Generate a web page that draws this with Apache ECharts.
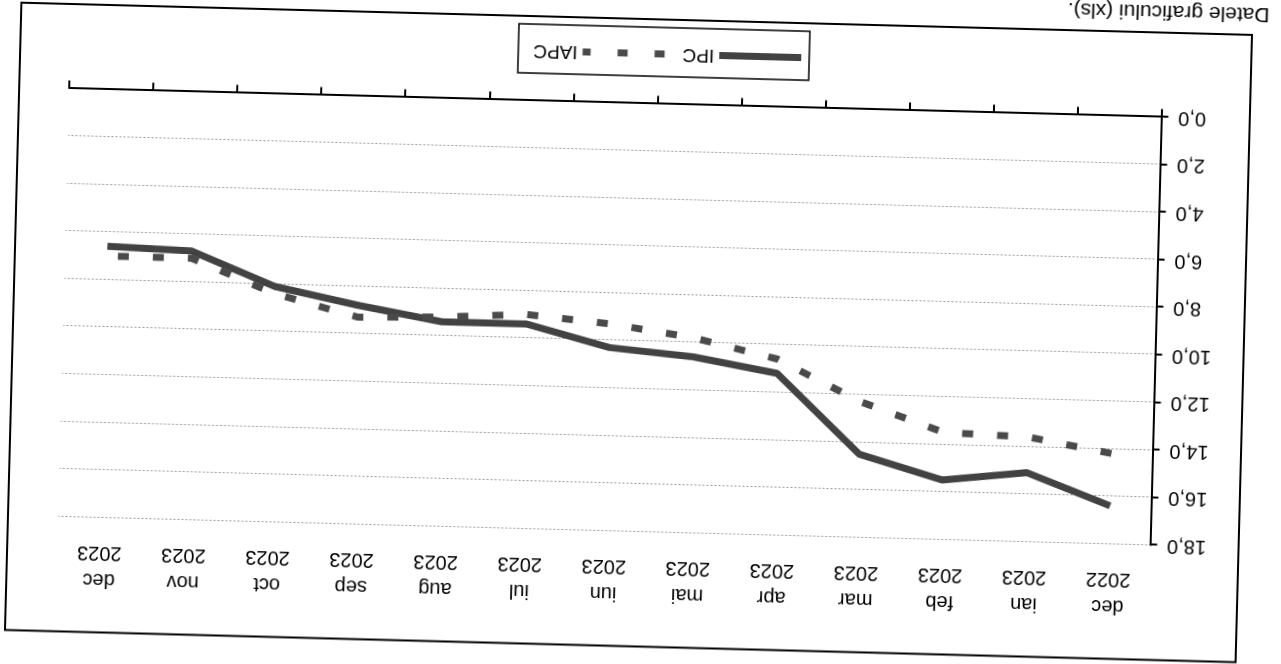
<!DOCTYPE html>
<html>
<head>
<meta charset="utf-8">
<script src="https://cdn.jsdelivr.net/npm/echarts@6/dist/echarts.min.js"></script>
<style>
html,body{margin:0;padding:0;width:1281px;height:664px;overflow:hidden;background:#fff;}
#c{position:absolute;left:-40px;top:-40px;width:1361px;height:744px;transform:rotate(181.5deg);transform-origin:50% 50%;}
</style>
</head>
<body>
<div id="c"></div>
<script>
const categories = ['dec\n2022','ian\n2023','feb\n2023','mar\n2023','apr\n2023','mai\n2023','iun\n2023','iul\n2023','aug\n2023','sep\n2023','oct\n2023','nov\n2023','dec\n2023'];
const ipc  = [16.4, 15.1, 15.5, 14.5, 11.2, 10.6, 10.3, 9.4, 9.4, 8.8, 8.1, 6.7, 6.6];
const iapc = [14.2, 13.6, 13.5, 12.3, 10.6, 9.8, 9.3, 9.0, 9.2, 9.3, 8.4, 7.0, 7.0];
const seriesNames = ['IPC', 'IAPC'];
const yTicks = {min: 0, max: 18, step: 2};
const caption = 'Datele graficului (xls).';

const font = 'Liberation Sans, Arial, sans-serif';
const solidIcon = 'path://M0,0H82V7H0Z';
const dashIcon = 'path://M0,0H10V7H0Z M37,0H47V7H37Z M74,0H82V7H74Z';
const chart = echarts.init(document.getElementById('c'), null, {renderer: 'canvas'});
chart.setOption({
  animation: false,
  backgroundColor: '#fff',
  grid: {left: 164.5, top: 172.5, right: 103.3, bottom: 143.4, containLabel: false},
  legend: {
    data: [
      {name: seriesNames[0], icon: solidIcon, itemStyle: {color: '#424242'}},
      {name: seriesNames[1], icon: dashIcon, itemStyle: {color: '#4a4a4a'}}
    ],
    left: 519, top: 628,
    orient: 'horizontal',
    borderColor: '#000', borderWidth: 1.5,
    padding: [13, 15, 17, 8],
    itemWidth: 82, itemHeight: 7, itemGap: 18,
    textStyle: {fontSize: 19, color: '#000', fontFamily: font}
  },
  xAxis: [{
    type: 'category', data: categories, position: 'bottom', boundaryGap: true,
    axisLine: {show: true, onZero: false, lineStyle: {color: '#000', width: 2}},
    axisTick: {show: true, interval: 0, length: 8, lineStyle: {color: '#000', width: 2}},
    axisLabel: {show: false},
    splitLine: {show: false}
  }, {
    type: 'category', data: categories, position: 'top', boundaryGap: true,
    axisLine: {show: false}, axisTick: {show: false},
    axisLabel: {show: true, interval: 0, fontSize: 20, lineHeight: 27, margin: 22, color: '#000', fontFamily: font},
    splitLine: {show: false}
  }],
  yAxis: {
    type: 'value', min: yTicks.min, max: yTicks.max, interval: yTicks.step,
    axisLine: {show: true, lineStyle: {color: '#000', width: 2}},
    axisTick: {show: true, length: 6, lineStyle: {color: '#000', width: 2}},
    axisLabel: {fontSize: 20, margin: 16, color: '#000', fontFamily: font,
      formatter: v => v.toFixed(1).replace('.', ',')},
    splitLine: {show: true, lineStyle: {color: '#9a9a9a', width: 1, type: [2, 2]}}
  },
  series: [{
    name: seriesNames[0], type: 'line', data: ipc, xAxisIndex: 0,
    symbol: 'none', smooth: false,
    lineStyle: {color: '#424242', width: 7},
    itemStyle: {color: '#424242'}
  }, {
    name: seriesNames[1], type: 'line', data: iapc, xAxisIndex: 0,
    symbol: 'none', smooth: false,
    lineStyle: {color: '#4a4a4a', width: 7, type: [11, 24], cap: 'butt'},
    itemStyle: {color: '#4a4a4a'}
  }],
  graphic: [{
    type: 'rect', silent: true,
    shape: {x: 77, y: 57.5, width: 1231, height: 627.5},
    style: {fill: 'none', stroke: '#000', lineWidth: 2}
  }, {
    type: 'text', left: 60, top: 696, silent: true,
    style: {text: caption, fontSize: 21, fill: '#000', fontFamily: font}
  }]
});
</script>
</body>
</html>
